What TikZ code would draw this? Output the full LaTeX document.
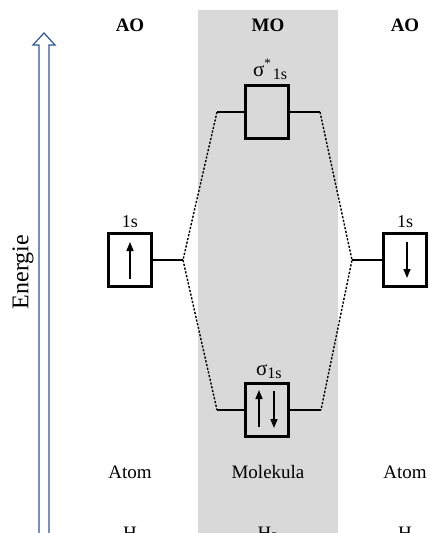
\documentclass[tikz,border=0pt]{standalone}
\usepackage{fontspec}
\setmainfont{Liberation Serif}
\usetikzlibrary{arrows.meta,calc}
\definecolor{mogray}{RGB}{217,217,217}
\definecolor{eblue}{RGB}{47,85,151}
\begin{document}
\begin{tikzpicture}[x=1pt,y=-1pt,
  every node/.style={inner sep=0pt, outer sep=0pt},
  txt/.style={font=\fontsize{19}{22}\selectfont},
  head/.style={font=\fontsize{19}{22}\selectfont\bfseries},
  lbl/.style={font=\fontsize{18}{21}\selectfont},
  orb/.style={draw, line width=3pt, minimum width=43pt, minimum height=53pt},
  conn/.style={line width=1.5pt},
  corr/.style={line width=1.4pt, dash pattern=on 2.2pt off 1.6pt},
  spin/.style={line width=1.5pt, -{Triangle[length=9pt,width=7pt]}}]
\useasboundingbox (0,0) rectangle (429,533);
\clip (0,0) rectangle (429,533);
% MO background
\fill[mogray] (198,10) rectangle (338,540);
% energy arrow
\draw[eblue, line width=1.2pt] (39,540) -- (39,45) -- (33,45) -- (44,33) -- (55,45) -- (49,45) -- (49,540);
\node[rotate=90, font=\fontsize{24}{28}\selectfont] (en) at (23,272) {Energie};
% headings
\node[head] (ao1) at (130,25) {AO};
\node[head] (mo) at (268,25) {MO};
\node[head] (ao2) at (405,25) {AO};
% orbitals
\node[orb] (L) at (130,260) {};
\node[orb] (R) at (405,260) {};
\node[orb] (S) at (267,112) {};
\node[orb] (B) at (267,410) {};
% labels
\node[lbl] (lL) at (130,222) {1s};
\node[lbl] (lR) at (405,222) {1s};
\node[anchor=base west, font=\fontsize{21}{24}\selectfont] (lS) at (253,76) {σ\raisebox{9pt}{\fontsize{13}{13}\selectfont *}\hspace{2pt}\raisebox{-3pt}{\fontsize{16}{16}\selectfont 1s}};
\node[anchor=base west, font=\fontsize{21}{24}\selectfont] (lB) at (256,375) {σ\raisebox{-3pt}{\fontsize{16}{16}\selectfont 1s}};
% level connectors
\coordinate (aL) at (183,260);
\coordinate (aR) at (352,260);
\coordinate (sTL) at (217,112);
\coordinate (sTR) at (320,112);
\coordinate (sBL) at (217,410);
\coordinate (sBR) at (321,410);
\draw[conn] (L.east) -- (aL);
\draw[conn] (aR) -- (R.west);
\draw[conn] (sTL) -- (S.west);
\draw[conn] (S.east) -- (sTR);
\draw[conn] (sBL) -- (B.west);
\draw[conn] (B.east) -- (sBR);
\draw[corr] (sTL) -- (aL) -- (sBL);
\draw[corr] (sTR) -- (aR) -- (sBR);
% spins
\draw[spin] ($(L.center)+(0,19)$) -- ($(L.center)+(0,-18)$);
\draw[spin] ($(R.center)+(2,-18)$) -- ($(R.center)+(2,18)$);
\draw[spin] ($(B.center)+(-8,17)$) -- ($(B.center)+(-8,-20)$);
\draw[spin] ($(B.center)+(7,-19)$) -- ($(B.center)+(7,18)$);
% bottom texts
\node[txt] (at1) at (130,472) {Atom};
\node[txt] (mol) at (268,472) {Molekula};
\node[txt] (at2) at (405,472) {Atom};
\node[txt, anchor=base] (h1) at (130,539) {H};
\node[txt, anchor=base] (h2) at (268,539) {H\textsubscript{2}};
\node[txt, anchor=base] (h3) at (405,539) {H};
\end{tikzpicture}
\end{document}
